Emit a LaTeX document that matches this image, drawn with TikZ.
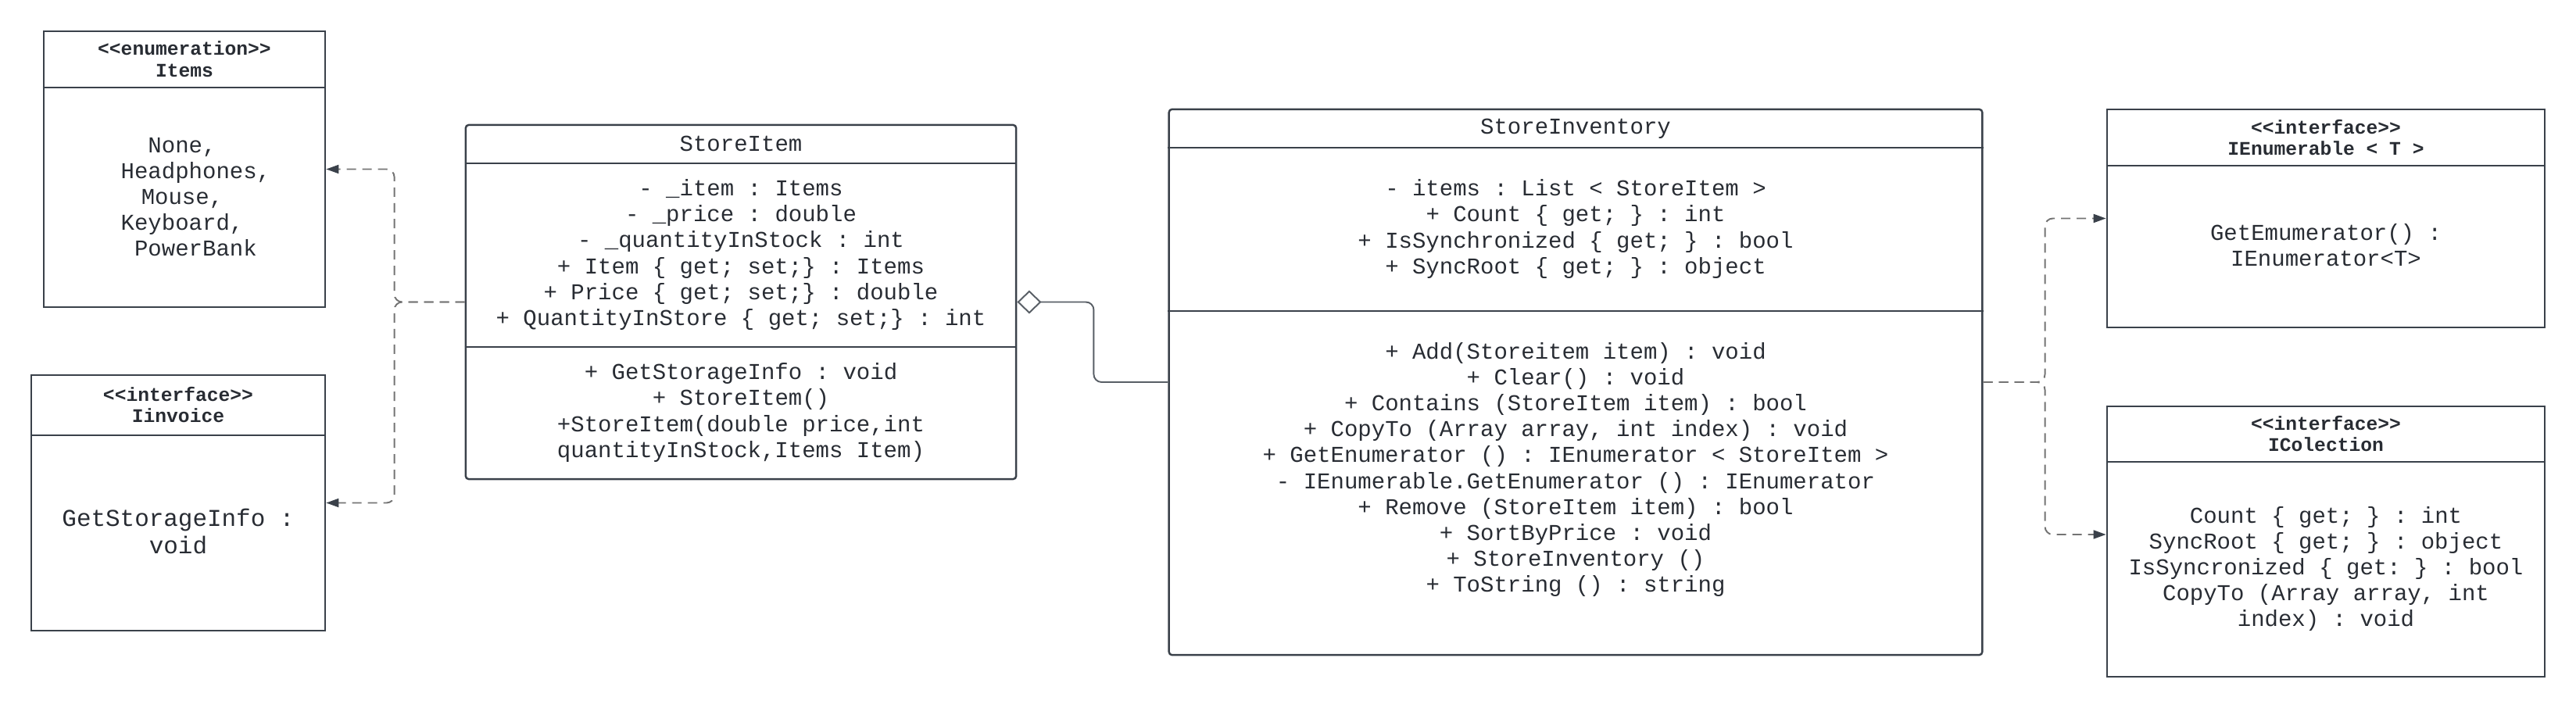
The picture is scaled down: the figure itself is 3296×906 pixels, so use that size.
\documentclass[tikz,border=0pt]{standalone}
\usepackage{fontspec}
\setmonofont{Liberation Mono}
\usepackage{xcolor}
\usepackage{tikz}
\usetikzlibrary{arrows.meta}
\definecolor{umlline}{HTML}{3A414A}
\definecolor{umltext}{HTML}{282C33}
\definecolor{umldash}{HTML}{737373}

\begin{document}
\begin{tikzpicture}[x=0.01cm, y=-0.01cm,
  classframe/.style={draw=umlline, line width=0.7pt, inner sep=0pt},
  roundframe/.style={classframe, rounded corners=0.04cm},
  divider/.style={draw=umlline, line width=0.7pt},
  stereo/.style={font=\ttfamily\bfseries\fontsize{7}{7.9}\selectfont, text=umltext, align=center, inner sep=0pt},
  memberText/.style={font=\ttfamily\fontsize{8.25}{9.4}\selectfont, text=umltext, align=center, inner sep=0pt},
  realizes/.style={draw=umldash, line width=0.55pt, dash pattern=on 0.12cm off 0.08cm, rounded corners=0.1cm,
    -{Triangle[length=0.16cm, width=0.11cm, color=umlline]}},
  aggregates/.style={draw=umlline!85, line width=0.55pt, rounded corners=0.1cm,
    {Diamond[open, length=0.31cm, width=0.30cm]}-}]
\useasboundingbox (0,0) rectangle (3296,906);

% enumeration Items
\node (items) [classframe, minimum width=3.60cm, minimum height=3.53cm] at (236,216.5) {};
\draw[divider] (items.west |- 0,112) -- (items.east |- 0,112);
\node (itemsHead) [stereo] at (236,76) {<<enumeration>>\\Items};
\node (itemsBody) [memberText] at (233,252) {None,\\\hspace*{1.2em}Headphones,\\Mouse,\\Keyboard,\\\hspace*{1.2em}PowerBank};

% interface Iinvoice
\node (iinvoice) [classframe, minimum width=3.76cm, minimum height=3.27cm] at (228,643.5) {};
\draw[divider] (iinvoice.west |- 0,557) -- (iinvoice.east |- 0,557);
\node (iinvoiceHead) [stereo] at (228,518) {<<interface>>\\Iinvoice};
\node (iinvoiceBody) [memberText, font=\ttfamily\fontsize{8.8}{9.8}\selectfont] at (228,680) {GetStorageInfo :\\void};

% class StoreItem
\node (storeitem) [roundframe, minimum width=7.04cm, minimum height=4.53cm] at (948,386.5) {};
\draw[divider] (storeitem.west |- 0,209) -- (storeitem.east |- 0,209);
\draw[divider] (storeitem.west |- 0,444) -- (storeitem.east |- 0,444);
\node (storeitemName) [memberText] at (948,184) {StoreItem};
\node (storeitemAttr) [memberText] at (948,326) {- \_item : Items\\- \_price : double\\- \_quantityInStock : int\\+ Item \{ get; set;\} : Items\\+ Price \{ get; set;\} : double\\+ QuantityInStore \{ get; set;\} : int};
\node (storeitemOps) [memberText] at (948,528) {+ GetStorageInfo : void\\+ StoreItem()\\+StoreItem(double price,int\\quantityInStock,Items Item)};

% class StoreInventory
\node (inventory) [roundframe, minimum width=10.40cm, minimum height=6.98cm] at (2016,489) {};
\draw[divider] (inventory.west |- 0,189) -- (inventory.east |- 0,189);
\draw[divider] (inventory.west |- 0,398) -- (inventory.east |- 0,398);
\node (inventoryName) [memberText] at (2016,165) {StoreInventory};
\node (inventoryAttr) [memberText] at (2016,293) {- items : List < StoreItem >\\+ Count \{ get; \} : int\\+ IsSynchronized \{ get; \} : bool\\+ SyncRoot \{ get; \} : object};
\node (inventoryOps) [memberText] at (2016,601) {+ Add(Storeitem item) : void\\+ Clear() : void\\+ Contains (StoreItem item) : bool\\+ CopyTo (Array array, int index) : void\\+ GetEnumerator () : IEnumerator < StoreItem >\\- IEnumerable.GetEnumerator () : IEnumerator\\+ Remove (StoreItem item) : bool\\+ SortByPrice : void\\+ StoreInventory ()\\+ ToString () : string};

% interface IEnumerable<T>
\node (ienum) [classframe, minimum width=5.60cm, minimum height=2.79cm] at (2976,279.5) {};
\draw[divider] (ienum.west |- 0,212) -- (ienum.east |- 0,212);
\node (ienumHead) [stereo] at (2976,176) {<<interface>>\\IEnumerable < T >};
\node (ienumBody) [memberText] at (2976,314) {GetEmumerator() :\\IEnumerator<T>};

% interface IColection
\node (icol) [classframe, minimum width=5.60cm, minimum height=3.46cm] at (2976,693) {};
\draw[divider] (icol.west |- 0,591) -- (icol.east |- 0,591);
\node (icolHead) [stereo] at (2976,555) {<<interface>>\\IColection};
\node (icolBody) [memberText] at (2976,728) {Count \{ get; \} : int\\SyncRoot \{ get; \} : object\\IsSyncronized \{ get: \} : bool\\CopyTo (Array array, int\\index) : void};

% connectors
\draw[realizes] (storeitem.west) -- ++(-90,0) |- (items.east);
\draw[realizes] (storeitem.west) -- ++(-90,0) |- (iinvoice.east);
\draw[aggregates] (storeitem.east) -- ++(98,0) |- (inventory.west);
\draw[realizes] (inventory.east) -- ++(79,0) |- (ienum.west);
\draw[realizes] (inventory.east) -- ++(79,0) |- ([yshift=0.09cm]icol.west);
\end{tikzpicture}
\end{document}
